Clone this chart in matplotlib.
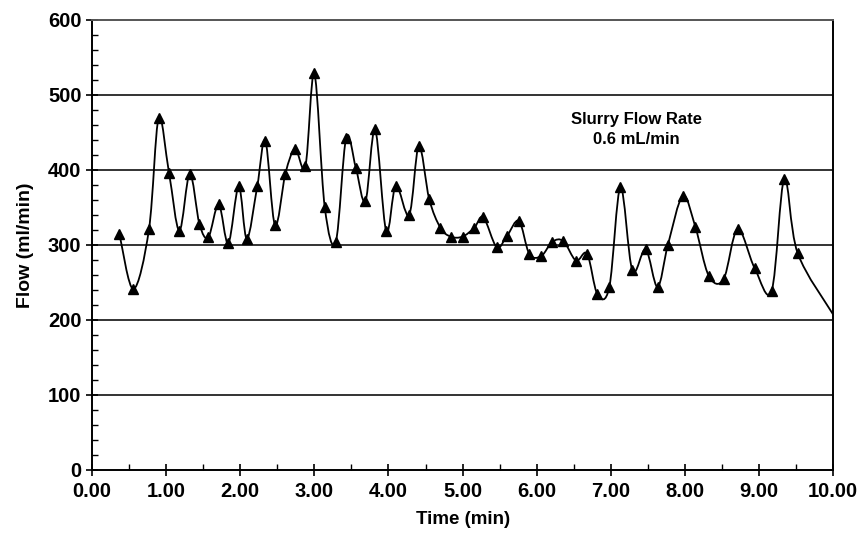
import numpy as np
import matplotlib.pyplot as plt
from matplotlib.path import Path
from matplotlib.patches import PathPatch
from matplotlib.ticker import MultipleLocator, FormatStrFormatter

plt.rcParams['font.family'] = ['Liberation Sans', 'DejaVu Sans']
plt.rcParams['font.weight'] = 'bold'

# --------------------------
# data
# --------------------------
time_min = [0.37, 0.56, 0.77, 0.90, 1.04, 1.18, 1.32, 1.45, 1.57, 1.71,
            1.84, 1.98, 2.09, 2.23, 2.34, 2.47, 2.61, 2.74, 2.88, 3.00,
            3.14, 3.29, 3.43, 3.56, 3.69, 3.82, 3.97, 4.10, 4.28, 4.41,
            4.55, 4.70, 4.84, 5.00, 5.16, 5.28, 5.46, 5.60, 5.76, 5.90,
            6.06, 6.21, 6.36, 6.53, 6.68, 6.82, 6.98, 7.13, 7.29, 7.47,
            7.63, 7.77, 7.97, 8.14, 8.32, 8.52, 8.71, 8.94, 9.17, 9.34,
            9.52]
flow = [315, 241, 321, 469, 396, 319, 395, 328, 310, 354,
        302, 378, 308, 378, 439, 326, 395, 428, 405, 529,
        351, 304, 443, 403, 358, 454, 318, 379, 340, 432,
        361, 323, 311, 311, 323, 337, 297, 312, 332, 288,
        285, 304, 305, 279, 288, 234, 244, 377, 266, 294,
        244, 300, 365, 324, 259, 254, 321, 269, 239, 388,
        289]
# line runs on past the last marker to the edge
end_time = 10.0
end_flow = 207

label_text = 'Slurry Flow Rate\n0.6 mL/min'


def smooth_path(x, y):
    # Excel-style smoothed line: cubic Bezier segments (Catmull-Rom control points)
    pts = np.column_stack([x, y]).astype(float)
    n = len(pts)
    verts = [pts[0]]
    codes = [Path.MOVETO]
    for i in range(n - 1):
        p0 = pts[i - 1] if i > 0 else pts[i]
        p1 = pts[i]
        p2 = pts[i + 1]
        p3 = pts[i + 2] if i + 2 < n else pts[i + 1]
        c1 = p1 + (p2 - p0) / 6.0
        c2 = p2 - (p3 - p1) / 6.0
        verts += [c1, c2, p2]
        codes += [Path.CURVE4] * 3
    return Path(verts, codes)


fig = plt.figure(figsize=(8.59, 5.37), dpi=100)
ax = fig.add_axes([0.107, 0.125, 0.863, 0.838])

# horizontal grid lines
for g in [100, 200, 300, 400, 500]:
    ax.axhline(g, color='#333333', lw=1.4, zorder=1)

line_x = time_min + [end_time]
line_y = flow + [end_flow]
ax.add_patch(PathPatch(smooth_path(line_x, line_y), facecolor='none',
                       edgecolor='black', lw=1.3, zorder=3))
ax.plot(time_min, flow, linestyle='none', marker='^', color='black',
        markersize=6.5, zorder=4)

ax.text(7.34, 454, label_text, ha='center', va='center', fontsize=12,
        fontweight='bold', linespacing=1.45)

ax.set_xlim(0, 10)
ax.set_ylim(0, 600)
ax.xaxis.set_major_locator(MultipleLocator(1))
ax.xaxis.set_minor_locator(MultipleLocator(0.5))
ax.xaxis.set_major_formatter(FormatStrFormatter('%.2f'))
ax.yaxis.set_major_locator(MultipleLocator(100))
ax.yaxis.set_minor_locator(MultipleLocator(20))

ax.tick_params(axis='both', which='major', direction='inout', length=8,
               width=1.2, labelsize=14.5)
ax.tick_params(axis='x', which='major', pad=5)
ax.tick_params(axis='both', which='minor', direction='in', length=4, width=1)
for lab in ax.get_xticklabels() + ax.get_yticklabels():
    lab.set_fontweight('bold')

ax.spines['top'].set_color('#555555')
ax.spines['top'].set_linewidth(1.4)
for s in ['left', 'right', 'bottom']:
    ax.spines[s].set_linewidth(1.4)

ax.set_xlabel('Time (min)', fontsize=13.5, fontweight='bold', labelpad=7)
ax.set_ylabel('Flow (ml/min)', fontsize=14, fontweight='bold', labelpad=10)

plt.savefig('out.png', dpi=100)
